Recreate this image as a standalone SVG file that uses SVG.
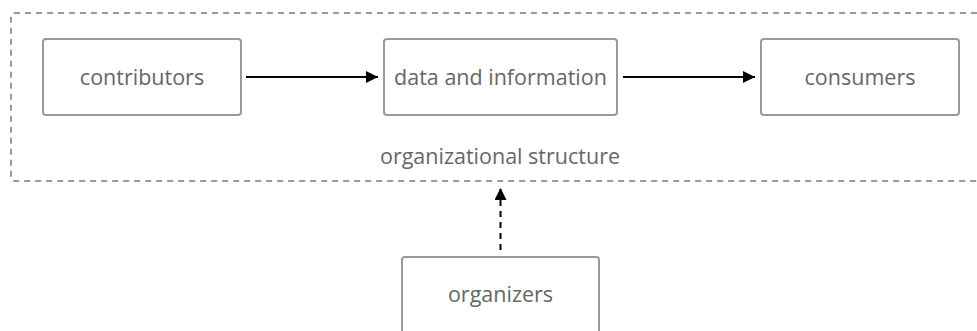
<svg xmlns="http://www.w3.org/2000/svg" width="977" height="331" viewBox="0 0 977 331">
<defs>
<style>
.box{fill:#fff;stroke:#999;stroke-width:2}
.lbl{font-family:"Open Sans",sans-serif;font-size:21.5px;fill:#666;text-anchor:middle}
.edge{stroke:#000;stroke-width:2;fill:none}
</style>
<marker id="ah" viewBox="0 0 10 10" refX="10" refY="5" markerWidth="6.5" markerHeight="6" markerUnits="strokeWidth" orient="auto">
<path d="M0,0 L10,5 L0,10 z" fill="#000"/>
</marker>
</defs>
<rect width="977" height="331" fill="#fff"/>
<g id="container">
<rect x="11" y="13" width="990" height="168" rx="3" fill="none" stroke="#999" stroke-width="2" stroke-dasharray="6,5"/>
<text class="lbl" x="500" y="164">organizational structure</text>
</g>
<g id="contributors">
<rect class="box" x="43" y="39" width="198" height="76" rx="3"/>
<text class="lbl" x="142" y="85">contributors</text>
</g>
<g id="data">
<rect class="box" x="384" y="39" width="233" height="76" rx="3"/>
<text class="lbl" x="500.5" y="85">data and information</text>
</g>
<g id="consumers">
<rect class="box" x="761" y="39" width="198" height="76" rx="3"/>
<text class="lbl" x="860" y="85">consumers</text>
</g>
<g id="organizers">
<rect class="box" x="402" y="257" width="197" height="90" rx="3"/>
<text class="lbl" x="500.5" y="302">organizers</text>
</g>
<g id="connectors">
<line class="edge" x1="246" y1="77" x2="378" y2="77" marker-end="url(#ah)"/>
<line class="edge" x1="623" y1="77" x2="755" y2="77" marker-end="url(#ah)"/>
<line class="edge" x1="500.5" y1="250" x2="500.5" y2="188" stroke-dasharray="6,5" marker-end="url(#ah)"/>
</g>
</svg>
